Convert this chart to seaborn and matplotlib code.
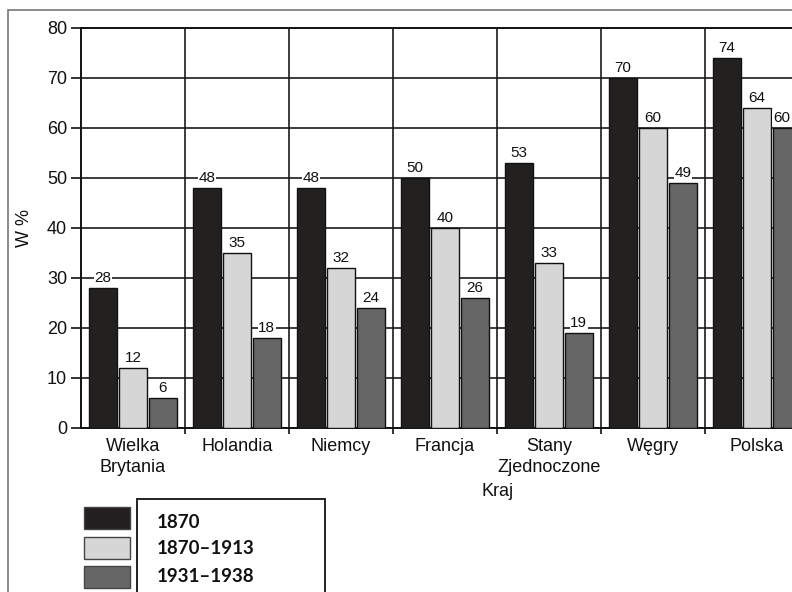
import numpy as np
import pandas as pd
import matplotlib
matplotlib.use("Agg")
import matplotlib.pyplot as plt
from matplotlib.patches import Rectangle
import seaborn as sns

# Data
countries = ["Wielka\nBrytania", "Holandia", "Niemcy", "Francja",
             "Stany\nZjednoczone", "Węgry", "Polska"]
periods = ["1870", "1870–1913", "1931–1938"]
share_1870 = [28, 48, 48, 50, 53, 70, 74]
share_1870_1913 = [12, 35, 32, 40, 33, 60, 64]
share_1931_1938 = [6, 18, 24, 26, 19, 49, 60]
y_ticks = [0, 10, 20, 30, 40, 50, 60, 70, 80]

bar_colors = ["#231f20", "#d6d6d6", "#666666"]

df = pd.DataFrame({
    "Kraj": countries * 3,
    "Okres": [periods[0]] * 7 + [periods[1]] * 7 + [periods[2]] * 7,
    "W %": share_1870 + share_1870_1913 + share_1931_1938,
})

sns.set_theme(style="white")
plt.rcParams["font.family"] = ["Liberation Sans", "DejaVu Sans"]

W, H = 792, 592
fig = plt.figure(figsize=(W / 100, H / 100), dpi=100)
# axes extends past the right edge, like the cropped scan
ax_left, ax_right, ax_top, ax_bot = 81, 809, 28, 428
ax = fig.add_axes([ax_left / W, 1 - ax_bot / H,
                   (ax_right - ax_left) / W, (ax_bot - ax_top) / H])

sns.barplot(data=df, x="Kraj", y="W %", hue="Okres", hue_order=periods,
            order=countries, palette=bar_colors, width=0.86, gap=0.06,
            edgecolor="#111111", linewidth=1.0, legend=False, ax=ax,
            zorder=3)

for cont in ax.containers:
    labels = ax.bar_label(cont, fmt="%d", padding=2, fontsize=11,
                          color="#111111",
                          bbox=dict(facecolor="white", edgecolor="none",
                                    pad=0.5),
                          zorder=4)
# the last label sits left-aligned on its bar at the cropped edge
last_bar = ax.containers[-1][-1]
labels[-1].xy = (last_bar.get_x(), last_bar.get_height())
labels[-1].set_horizontalalignment("left")

ax.set_xlim(-0.5, len(countries) - 0.5)
ax.set_ylim(0, 80)
ax.set_yticks(y_ticks)
ax.set_yticklabels([str(t) for t in y_ticks], fontsize=13, color="#111111")
ax.set_xticks(range(len(countries)))
ax.set_xticklabels(countries, fontsize=13, color="#111111", linespacing=1.25)
ax.set_xticks(np.arange(len(countries)) + 0.5, minor=True)

ax.tick_params(axis="y", which="major", length=7, width=1.2, color="#111111",
               pad=3, left=True)
ax.tick_params(axis="x", which="major", length=0, pad=7.5)
ax.tick_params(axis="x", which="minor", length=4, width=1.2, color="#111111",
               bottom=True)

ax.grid(axis="y", which="major", color="#1a1a1a", linewidth=1.2, zorder=1)
ax.grid(axis="x", which="minor", color="#1a1a1a", linewidth=1.2, zorder=1)
ax.set_axisbelow(True)

for side in ["left", "bottom", "top", "right"]:
    ax.spines[side].set_color("#111111")
    ax.spines[side].set_linewidth(1.4)

ax.set_ylabel("W %", fontsize=13, color="#111111", labelpad=10)
ax.set_xlabel("")
fig.text(498 / W, 1 - 491 / H, "Kraj", fontsize=13, color="#111111",
         ha="center", va="center")

# outer frame of the scan
fig.patches.append(Rectangle((8 / W, -0.1), 1.2, 1 - 10 / H + 0.1,
                             transform=fig.transFigure, fill=False,
                             edgecolor="#777777", linewidth=1.2))

# legend: swatches outside, labels inside a box
fig.patches.append(Rectangle((137 / W, -0.05), (325 - 137) / W,
                             1 - 499 / H + 0.05, transform=fig.transFigure,
                             fill=False, edgecolor="#111111", linewidth=1.3))
sw_top = [507, 537, 566]
txt_y = [523, 549, 576]
for label, color, top, ty in zip(periods, bar_colors, sw_top, txt_y):
    fig.patches.append(Rectangle((84 / W, 1 - (top + 22) / H), 46 / W, 22 / H,
                                 transform=fig.transFigure, facecolor=color,
                                 edgecolor="#444444", linewidth=1.0))
    fig.text(157 / W, 1 - ty / H, label, fontsize=13.5, fontweight="bold",
             family=["Lato", "DejaVu Sans"], color="#111111",
             ha="left", va="center")

fig.savefig("out.png", dpi=100)
